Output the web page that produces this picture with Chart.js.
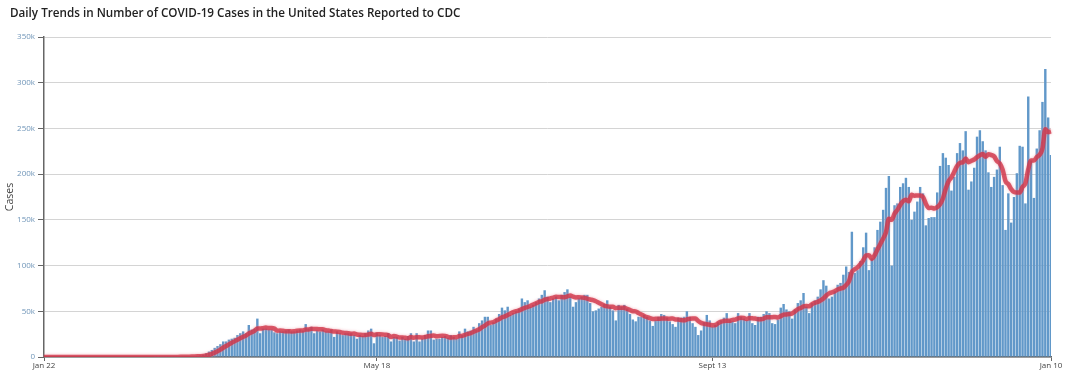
<!DOCTYPE html>
<html>
<head>
<meta charset="utf-8">
<script src="https://cdn.jsdelivr.net/npm/chart.js@4.4.1/dist/chart.umd.min.js"></script>
<style>
  html, body { margin: 0; padding: 0; background: #fff; }
  #wrap { width: 1080px; height: 384px; }
</style>
</head>
<body>
<div id="wrap"><canvas id="graph_cases"></canvas></div>
<script>
// daily counts, in thousands, Jan 22 2020 .. Jan 10 2021
var daily_cases = [
  0,0,0,0,0,0,0,0,0,0, 0,0,0,0,0,0,0,0,0,0, 0,0,0,0,0,0,0,0,0,0, 0,0,0,0,0,0,0,0,0,
  0.01,0.02,0.03,0.05,0.05,0.1,0.1,0.15,0.2,0.3,0.4,
  0.5,0.6,0.8,1.0,1.3,1.8,2.5,4,6,7.7,
  10,12,14,17,17,19,20,21,24,26,
  28,26,35,30,31,42,26,31,31,30,
  30,27,26,28,28,29,30,28,28,29,
  30,29,36,31,33,26,29,28,30,28,
  28,30,22,28,26,24,26,26,26,24,
  20,24,23,26,29,31,15,26,24,22,
  23,26,17,22,22,18,22,20,23,26,
  17,26,17,20,24,29,29,19,20,20,
  22,23,21,24,22,20,28,24,31,28,
  29,33,30,37,40,44,44,35,38,42,
  47,54,51,55,46,48,50,53,64,60,
  62,55,57,60,64,68,73,66,60,64,
  66,62,68,71,74,66,55,60,64,66,
  68,68,59,50,51,53,55,58,62,55,
  51,40,57,55,57,53,47,41,39,44,
  44,46,44,40,34,40,44,47,46,43,
  39,36,33,43,43,44,50,44,37,33,
  24,29,38,46,40,33,35,38,40,43,
  48,41,39,37,48,44,42,40,48,37,
  35,44,44,47,50,48,37,36,41,54,
  58,52,50,42,52,59,62,70,55,48,
  59,62,66,74,84,78,64,66,72,79,
  81,90,99,93,137,92,95,105,120,136,
  95,108,120,139,148,161,185,198,100,166,
  168,186,190,196,186,150,159,170,186,179,
  144,152,153,153,180,209,223,218,210,182,
  197,223,234,226,247,183,192,207,241,248,
  236,226,202,186,197,205,230,188,139,179,
  147,175,201,231,230,168,285,215,174,228,
  248,279,315,262,221
];

// 7-day average line, in thousands
var avg_cases = [
  0,0,0,0,0,0,0,0,0,0, 0,0,0,0,0,0,0,0,0,0, 0,0,0,0,0,0,0,0,0,0, 0,0,0,0,0,0,0,0,0,
  0,0,0.01,0.02,0.02,0.04,0.05,0.07,0.1,0.14,0.19,
  0.25,0.32,0.42,0.54,0.7,0.91,1.2,1.7,2.5,3.5,
  4.8,6.3,8.0,10.1,12.0,13.8,15.6,17.1,18.9,20.6,
  22.1,23.4,25.7,27.1,28.6,31.1,31.1,31.6,32.3,31.6,
  31.6,31.0,28.7,29.0,28.6,28.3,28.3,28.0,28.1,28.6,
  28.9,29.0,30.0,30.1,30.9,30.6,30.6,30.3,30.4,29.3,
  28.9,28.4,27.9,27.7,27.4,26.6,26.3,26.0,25.4,25.7,
  24.6,24.3,24.1,24.1,24.6,25.3,24.0,24.9,24.9,24.7,
  24.3,23.9,21.9,22.9,22.3,21.4,21.4,21.0,20.6,21.9,
  21.1,21.7,21.6,21.3,21.9,22.7,23.1,23.4,22.6,23.0,
  23.3,23.1,22.0,21.3,21.7,21.7,22.9,23.1,24.3,25.3,
  26.0,27.6,29.0,30.3,32.6,34.4,36.7,37.6,38.3,40.0,
  41.4,43.4,44.4,46.0,47.6,49.0,50.1,51.0,52.4,53.7,
  54.7,56.0,57.3,58.7,60.3,60.9,62.7,63.3,64.0,65.0,
  65.9,65.6,65.6,65.3,66.4,67.3,66.0,65.1,65.4,65.1,
  64.7,63.9,62.9,62.1,60.9,59.3,57.7,56.3,55.4,54.9,
  55.0,53.4,54.0,54.0,53.9,52.6,51.4,50.0,49.9,48.0,
  46.4,44.9,43.6,42.6,41.6,41.7,41.7,42.1,42.1,42.0,
  41.9,42.1,41.1,41.0,40.4,40.1,41.1,41.9,42.0,42.0,
  39.3,37.3,36.4,35.9,35.3,34.7,35.0,37.0,38.6,39.3,
  39.6,39.7,40.6,40.9,42.3,42.9,42.7,41.6,42.6,42.3,
  42.0,41.4,41.4,42.1,43.6,43.6,43.6,43.7,43.3,44.7,
  46.3,46.6,46.9,47.6,49.9,52.4,53.6,55.3,55.7,55.4,
  57.9,59.3,60.3,62.0,64.0,67.3,69.6,70.6,72.0,73.9,
  74.9,75.7,78.7,82.9,93.0,95.9,98.1,101.6,105.9,111.1,
  111.4,107.3,111.3,117.6,123.7,129.6,136.6,151.3,150.1,156.7,
  160.9,166.3,170.4,172.0,170.3,177.4,176.4,176.7,176.7,175.1,
  167.7,162.9,163.3,162.4,163.9,167.1,173.4,184.0,192.3,196.4,
  202.7,208.9,212.4,212.9,217.0,213.1,214.6,216.0,218.6,220.6,
  222.0,219.0,221.7,220.9,219.4,214.3,211.7,204.9,192.4,189.1,
  183.6,180.4,179.9,180.0,186.0,190.1,205.3,215.0,214.9,218.7,
  221.1,228.1,249.1,245.9,246.7
];

var tick_labels = ["Jan 22", "May 18", "Sept 13", "Jan 10"];
var y_ticks = [0, 50, 100, 150, 200, 250, 300, 350];
var title_text = 'Daily Trends in Number of COVID-19 Cases in the United States Reported to CDC';

// one label per day
var month_names = ["Jan","Feb","Mar","Apr","May","June","July","Aug","Sept","Oct","Nov","Dec"];
var day_labels = [];
var d = new Date(2020, 0, 22);
for (var i = 0; i < daily_cases.length; i++) {
    day_labels.push(month_names[d.getMonth()] + " " + d.getDate());
    d.setDate(d.getDate() + 1);
}

// title drawn at a fixed spot, top left
var titlePlugin = {
    id: 'titleText',
    afterDraw: function(chart) {
        var c = chart.ctx;
        c.save();
        c.font = '600 11.7px "Open Sans"';
        c.fillStyle = '#222';
        c.textBaseline = 'middle';
        c.textAlign = 'left';
        c.fillText(title_text, 10, 14);
        c.restore();
    }
};

// soft pink halo round the average line
var haloPlugin = {
    id: 'lineHalo',
    beforeDatasetDraw: function(chart, args) {
        if (args.index !== 0) return;
        chart.ctx.save();
        chart.ctx.shadowColor = 'rgba(235,130,145,0.8)';
        chart.ctx.shadowBlur = 3;
    },
    afterDatasetDraw: function(chart, args) {
        if (args.index !== 0) return;
        chart.ctx.restore();
    }
};

var ctx = document.getElementById("graph_cases");

var myChart_cases = new Chart(ctx, {
    type: 'bar',
    data: {
        labels: day_labels,
        datasets: [{
            type: 'line',
            data: avg_cases,
            borderColor: 'rgba(205,45,65,0.75)',
            borderWidth: 4.5,
            pointRadius: 0,
            tension: 0.4,
            cubicInterpolationMode: 'monotone',
            order: 0
        }, {
            type: 'bar',
            data: daily_cases,
            backgroundColor: '#6198c9',
            barPercentage: 0.85,
            categoryPercentage: 1.0,
            order: 1
        }]
    },
    plugins: [titlePlugin, haloPlugin],
    options: {
        responsive: true,
        maintainAspectRatio: false,
        animation: false,
        layout: {
            padding: { left: 4, right: 29, top: 37, bottom: 0 }
        },
        plugins: {
            legend: { display: false },
            tooltip: { enabled: false },
            title: { display: false }
        },
        scales: {
            x: {
                offset: false,
                border: { display: true, color: '#666', width: 1.5 },
                grid: { display: true, offset: false, drawOnChartArea: false, drawTicks: true, tickLength: 4, color: '#666' },
                ticks: {
                    autoSkip: false,
                    maxRotation: 0,
                    padding: 0,
                    color: '#444',
                    font: { family: 'Open Sans', size: 8 },
                    callback: function(value) {
                        var lab = this.getLabelForValue(value);
                        return tick_labels.indexOf(lab) >= 0 ? lab : null;
                    }
                },
                afterFit: function(scale) { scale.height = 27; }
            },
            y: {
                min: 0,
                max: 350,
                border: { display: true, color: '#666', width: 1.5 },
                grid: { color: '#d4d4d4', tickColor: '#666', tickLength: 6 },
                afterBuildTicks: function(scale) {
                    scale.ticks = y_ticks.map(function(v) { return { value: v }; });
                },
                ticks: {
                    color: '#6f95b8',
                    padding: 3,
                    font: { family: 'Open Sans', size: 8 },
                    callback: function(value) { return value === 0 ? '0' : value + 'k'; }
                },
                title: {
                    display: true,
                    text: 'Cases',
                    color: '#444',
                    font: { family: 'Open Sans', size: 10.5 },
                    padding: { top: 0, bottom: 0 }
                },
                afterFit: function(scale) { scale.width = 40; }
            }
        }
    }
});
</script>
</body>
</html>
